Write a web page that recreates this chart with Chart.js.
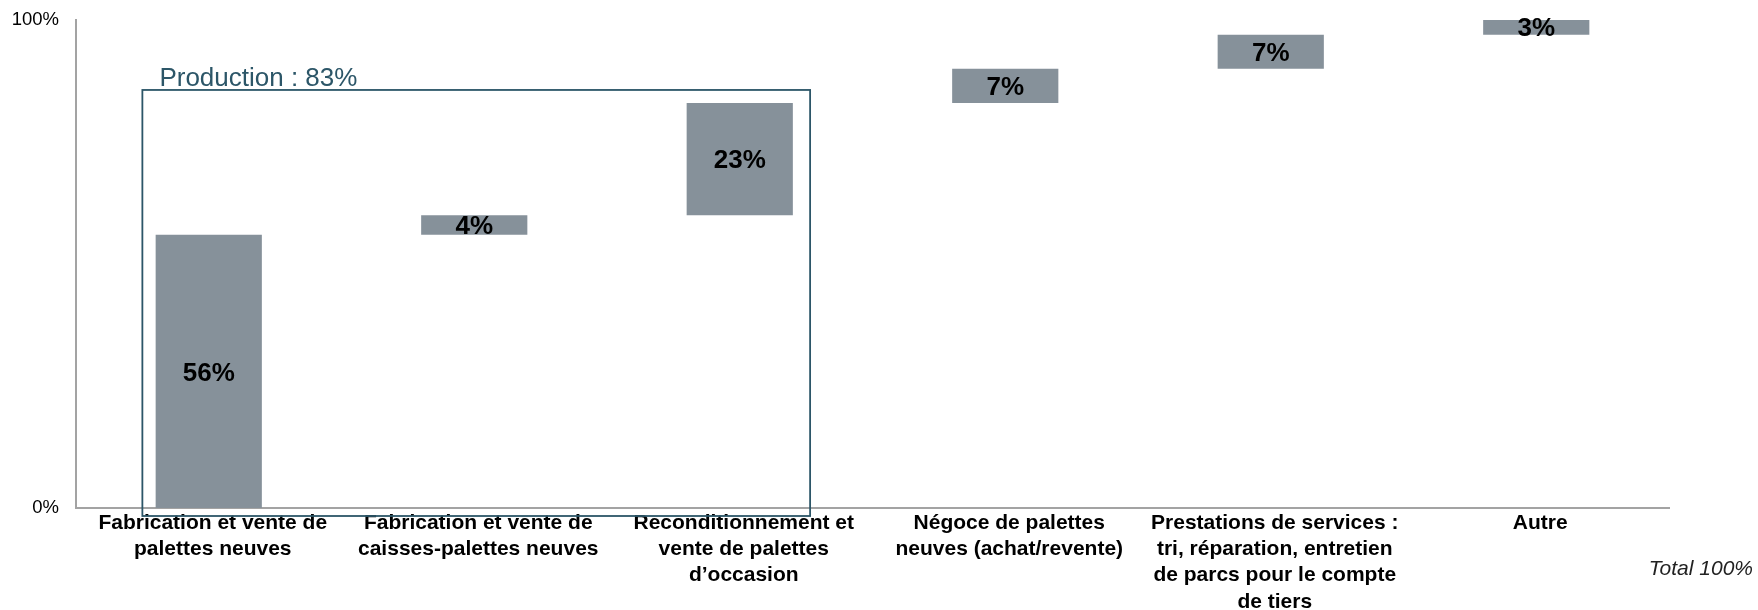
<!DOCTYPE html>
<html>
<head>
<meta charset="utf-8">
<script src="https://cdn.jsdelivr.net/npm/chart.js@4"></script>
<style>
  body { margin: 0; background: #fff; }
  #wrap { width: 1758px; height: 610px; }
</style>
</head>
<body>
<div id="wrap"><canvas id="waterfall"></canvas></div>
<script>
const categories = [
    ["Fabrication et vente de", "palettes neuves"],
    ["Fabrication et vente de", "caisses-palettes neuves"],
    ["Reconditionnement et", "vente de palettes", "d\u2019occasion"],
    ["N\u00e9goce de palettes", "neuves (achat/revente)"],
    ["Prestations de services :", "tri, r\u00e9paration, entretien", "de parcs pour le compte", "de tiers"],
    ["Autre"]
];
const shares = [56, 4, 23, 7, 7, 3];
const yTicks = [0, 100];
const groupLabel = "Production : 83%";
const groupTop = 83;
const totalLabel = "Total 100%";

// floating bars: each one starts where the previous one ended
let running = 0;
const floating = shares.map(v => { const r = [running, running + v]; running += v; return r; });

const barColor = "#86919a";
const teal = "#2c5668";

const extras = {
    id: 'extras',
    afterDatasetsDraw(chart) {
        const ctx = chart.ctx;
        const x = chart.scales.x, y = chart.scales.y;
        const meta = chart.getDatasetMeta(0);
        ctx.save();
        ctx.fillStyle = "#000";
        ctx.font = "bold 26px 'Liberation Sans', Arial, sans-serif";
        ctx.textAlign = "center";
        ctx.textBaseline = "middle";
        meta.data.forEach((bar, i) => {
            const mid = (bar.y + bar.base) / 2;
            ctx.fillText(shares[i] + "%", bar.x, mid + 2);
        });

        // production group box
        const cw = x.getPixelForValue(1) - x.getPixelForValue(0);
        const left = x.getPixelForValue(0) - cw * 0.25;
        const right = x.getPixelForValue(2) + cw * 0.265;
        const top = y.getPixelForValue(groupTop) - 13;
        const bottom = y.getPixelForValue(0) + 8;
        ctx.strokeStyle = teal;
        ctx.lineWidth = 1.8;
        ctx.strokeRect(left, top, right - left, bottom - top);
        ctx.fillStyle = teal;
        ctx.font = "26px 'Liberation Sans', Arial, sans-serif";
        ctx.textAlign = "left";
        ctx.textBaseline = "alphabetic";
        ctx.fillText(groupLabel, left + 17, top - 4);

        ctx.fillStyle = "#222";
        ctx.font = "italic 21px 'Liberation Sans', Arial, sans-serif";
        ctx.textAlign = "right";
        ctx.textBaseline = "middle";
        ctx.fillText(totalLabel, 1753, 569);
        ctx.restore();
    }
};

new Chart(document.getElementById("waterfall"), {
    type: 'bar',
    data: {
        labels: categories,
        datasets: [{
            data: floating,
            backgroundColor: barColor,
            borderWidth: 0,
            barPercentage: 0.4,
            categoryPercentage: 1.0
        }]
    },
    options: {
        responsive: true,
        maintainAspectRatio: false,
        animation: false,
        layout: { padding: { top: 20, right: 89, left: 0, bottom: 0 } },
        plugins: {
            legend: { display: false },
            tooltip: { enabled: false }
        },
        scales: {
            x: {
                grid: { display: false, drawTicks: false },
                border: { display: true, color: "#a3a3a3", width: 2 },
                ticks: {
                    color: "#000",
                    padding: 2,
                    labelOffset: 4,
                    autoSkip: false,
                    maxRotation: 0,
                    font: { family: "'Liberation Sans', Arial, sans-serif", size: 21, weight: 'bold', lineHeight: 1.25 }
                },
                afterFit(scale) { scale.height = 102; scale.paddingTop = 0; scale.paddingBottom = 0; }
            },
            y: {
                min: 0,
                max: 100,
                grid: { display: false, drawTicks: false },
                border: { display: true, color: "#a3a3a3", width: 2 },
                afterBuildTicks(scale) { scale.ticks = yTicks.map(v => ({ value: v })); },
                ticks: {
                    color: "#000",
                    padding: 17,
                    callback: v => v + "%",
                    font: { family: "'Liberation Sans', Arial, sans-serif", size: 18.5 }
                },
                afterFit(scale) { scale.width = 76; scale.paddingTop = 0; scale.paddingBottom = 0; }
            }
        }
    },
    plugins: [extras]
});
</script>
</body>
</html>
